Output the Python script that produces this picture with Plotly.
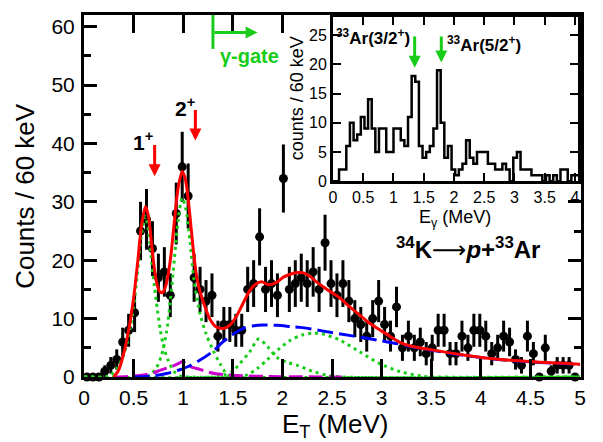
import math
import plotly.graph_objects as go

FONT = "Liberation Sans, Arial, Helvetica, sans-serif"
GREEN = "#19cc19"
RED = "#ff0000"
BLUE = "#0000ff"
MAGENTA = "#cc00cc"

# ---------------- main spectrum (60 keV bins) ----------------
counts = [0, 0, 0, 1, 2, 3, 6, 8, 11, 25, 27, 22, 17, 18, 14, 28, 36, 31, 17, 15,
          13, 14, 7, 9, 9, 8, 8, 15, 16, 24, 15, 16, 14, 34, 15, 16, 17, 16, 18, 15,
          23, 16, 14, 16, 13, 10, 9, 7, 10, 13, 9, 7, 12, 5, 7, 5, 6, 4, 5, 8,
          8, 4, 4, 7, 5, 8, 8, 7, 4, 5, 7, 6, 3, 2, 7, 4, 0, 5, 1, 2,
          2, 2, 0]
e_t = [round(0.03 + 0.06 * i, 2) for i in range(len(counts))]
err = [math.sqrt(c) for c in counts]

# ---------------- fit curves ----------------
total_e = [0.30, 0.35, 0.40, 0.45, 0.50, 0.54, 0.58, 0.62, 0.65, 0.68, 0.71, 0.74, 0.77,
           0.80, 0.83, 0.87, 0.91, 0.95, 0.99, 1.02, 1.05, 1.08, 1.11, 1.14, 1.17, 1.22,
           1.27, 1.33, 1.40, 1.47, 1.54, 1.60, 1.67, 1.73, 1.79, 1.86, 1.94, 2.01, 2.08,
           2.15, 2.22, 2.28, 2.35, 2.45, 2.58, 2.68, 2.78, 2.88, 2.98, 3.09, 3.19, 3.29,
           3.52, 3.86, 4.20, 4.53, 5.00]
total_y = [0.0, 1.2, 4.0, 8.0, 13.5, 19.5, 26.0, 29.2, 27.5, 23.0, 18.5, 15.6, 14.5,
           14.6, 16.0, 20.0, 26.5, 32.5, 35.2, 34.0, 30.5, 25.5, 20.5, 16.8, 14.6, 12.0,
           9.9, 8.6, 8.3, 8.9, 10.5, 12.5, 14.8, 15.9, 16.3, 15.8, 16.2, 17.1, 17.6,
           17.9, 17.8, 17.2, 16.2, 15.0, 13.5, 12.0, 10.6, 9.2, 8.1, 6.9, 5.9, 5.3,
           4.6, 3.7, 3.0, 2.6, 2.2]

bkg_e = [0.50, 0.70, 0.83, 0.96, 1.05, 1.17, 1.30, 1.40, 1.50, 1.60, 1.70, 1.80, 1.95,
         2.08, 2.18, 2.40, 2.72, 3.00, 3.19, 3.29, 3.52, 3.86, 4.20, 4.53, 5.00]
bkg_y = [0.0, 0.2, 0.6, 1.2, 1.8, 2.9, 4.4, 6.0, 7.3, 8.3, 8.75, 8.9, 8.85,
         8.65, 8.5, 7.9, 7.0, 6.2, 5.6, 5.2, 4.55, 3.65, 2.95, 2.55, 2.15]

mag_e = [0.30, 0.45, 0.60, 0.70, 0.76, 0.83, 0.90, 0.95, 0.99, 1.03, 1.07, 1.17, 1.25,
         1.33, 1.45, 1.60, 1.85, 2.20, 2.60]
mag_y = [0.0, 0.1, 0.35, 0.7, 1.1, 1.5, 1.9, 2.3, 2.6, 2.3, 1.8, 1.3, 0.85,
         0.55, 0.35, 0.2, 0.1, 0.03, 0.0]

g1_e = [0.00, 0.22, 0.28, 0.34, 0.40, 0.45, 0.50, 0.54, 0.58, 0.62, 0.65, 0.68, 0.71,
        0.74, 0.77, 0.80, 0.85, 0.91, 0.98, 1.05, 5.00]
g1_y = [0.0, 0.0, 0.5, 1.6, 3.8, 7.0, 12.0, 18.0, 24.5, 27.5, 25.0, 20.0, 15.5,
        11.5, 8.0, 5.4, 2.8, 0.9, 0.1, 0.0, 0.0]

g2_e = [0.00, 0.60, 0.67, 0.73, 0.78, 0.83, 0.87, 0.91, 0.95, 0.99, 1.03, 1.07, 1.11,
        1.17, 1.23, 1.30, 1.37, 1.44, 1.50, 5.00]
g2_y = [0.0, 0.0, 0.4, 1.6, 3.6, 7.5, 13.0, 20.0, 27.0, 30.7, 28.5, 23.0, 16.5,
        10.8, 7.4, 4.6, 2.3, 0.5, 0.0, 0.0]

g3_e = [0.00, 1.30, 1.40, 1.50, 1.57, 1.67, 1.76, 1.85, 1.95, 2.05, 2.15, 2.30, 2.45,
        2.60, 5.00]
g3_y = [0.0, 0.0, 0.3, 1.0, 2.3, 4.3, 6.5, 5.2, 3.3, 2.5, 2.0, 1.0, 0.3,
        0.0, 0.0]

g4_e = [0.00, 1.55, 1.65, 1.75, 1.85, 1.95, 2.08, 2.20, 2.30, 2.40, 2.58, 2.78, 2.98,
        3.19, 3.39, 3.50, 5.00]
g4_y = [0.0, 0.0, 0.4, 1.5, 3.0, 4.6, 6.3, 7.2, 7.5, 7.4, 6.3, 4.3, 2.3,
        0.9, 0.2, 0.0, 0.0]

# ---------------- inset: gamma spectrum (60 keV bins) ----------------
gam_edges = [round(-0.02 + 0.06 * i, 2) for i in range(69)]
gam_counts = [0, 0, 2, 2, 6, 10, 7, 8, 11, 9, 14, 9, 5, 9, 9, 5, 5, 9, 9, 7,
              6, 11, 18, 17, 6, 4, 5, 6, 9, 19, 10, 4, 6, 2, 1, 2, 3, 7, 4, 3,
              5, 5, 5, 3, 3, 2, 2, 3, 2, 0, 4, 5, 2, 2, 2, 1, 1, 1, 0, 1,
              0, 1, 0, 2, 2, 0, 1, 1]

fig = go.Figure()

fig.add_trace(go.Scatter(
    x=e_t, y=counts, mode="markers", cliponaxis=False,
    marker=dict(color="black", size=9),
    error_y=dict(type="data", array=err, visible=True, color="black", thickness=3, width=0),
    xaxis="x", yaxis="y"))

dot = "3px,4px"
for ex, ey in [(g1_e, g1_y), (g2_e, g2_y), (g3_e, g3_y), (g4_e, g4_y)]:
    fig.add_trace(go.Scatter(x=ex, y=ey, mode="lines",
                             line=dict(color=GREEN, width=3, dash=dot, shape="spline", smoothing=0.8),
                             xaxis="x", yaxis="y"))
fig.add_trace(go.Scatter(x=mag_e, y=mag_y, mode="lines",
                         line=dict(color=MAGENTA, width=3, dash="14px,6px", shape="spline", smoothing=0.8),
                         xaxis="x", yaxis="y"))
fig.add_trace(go.Scatter(x=bkg_e, y=bkg_y, mode="lines",
                         line=dict(color=BLUE, width=3, dash="16px,6px", shape="spline", smoothing=0.8),
                         xaxis="x", yaxis="y"))
fig.add_trace(go.Scatter(x=total_e, y=total_y, mode="lines",
                         line=dict(color=RED, width=3, shape="spline", smoothing=0.8),
                         xaxis="x", yaxis="y"))

# inset histogram
fig.add_trace(go.Scatter(x=gam_edges, y=gam_counts + [gam_counts[-1]], mode="lines",
                         line=dict(color="black", width=2.5, shape="hv"),
                         xaxis="x2", yaxis="y2"))

axis_common = dict(showline=True, linewidth=3, linecolor="black", mirror="ticks",
                   ticks="inside", tickcolor="black", showgrid=False, zeroline=False)

fig.update_layout(
    width=603, height=442,
    margin=dict(l=84, r=22, t=13, b=65),
    paper_bgcolor="white", plot_bgcolor="white",
    showlegend=False,
    font=dict(family=FONT, color="black"),
    xaxis=dict(**axis_common, range=[0, 5.01], domain=[0, 1], anchor="y",
               dtick=0.5, tick0=0, ticklen=18, tickwidth=2.5,
               tickfont=dict(size=21), ticklabelstandoff=0),
    yaxis=dict(**axis_common, range=[0, 62], domain=[0, 1], anchor="x",
               dtick=10, tick0=0, ticklen=13, tickwidth=2.5,
               minor=dict(dtick=5, ticklen=7, tickwidth=2.5, ticks="inside", tickcolor="black"),
               tickfont=dict(size=21), ticklabelstandoff=2),
    xaxis2=dict(**axis_common, range=[0, 4.05], domain=[0.501, 0.994], anchor="y2",
                dtick=0.5, tick0=0, ticklen=8, tickwidth=2,
                tickfont=dict(size=16), ticklabelstandoff=0),
    yaxis2=dict(**axis_common, range=[0, 28.1], domain=[0.541, 0.9945], anchor="x2",
                dtick=5, tick0=0, ticklen=8, tickwidth=2,
                tickfont=dict(size=16), ticklabelstandoff=0),
)

fig.add_shape(type="rect", xref="x2 domain", yref="y2 domain", x0=0, x1=1, y0=0, y1=1,
              fillcolor="white", line=dict(width=0), layer="below")

# gamma-gate marker
fig.add_shape(type="line", xref="x", yref="y", x0=1.30, x1=1.30, y0=56.2, y1=62,
              line=dict(color=GREEN, width=3))

ann = []
# axis titles
ann.append(dict(text="E<sub>T</sub> (MeV)", xref="paper", yref="paper", x=0.505, y=-0.135,
                showarrow=False, font=dict(size=26), xanchor="center", yanchor="middle"))
ann.append(dict(text="Counts / 60 keV", xref="paper", yref="paper", x=-0.119, y=0.5,
                textangle=-90, showarrow=False, font=dict(size=26), xanchor="center", yanchor="middle"))
ann.append(dict(text="E<sub>γ</sub> (MeV)", xref="paper", yref="paper", x=0.746, y=0.438,
                showarrow=False, font=dict(size=18), xanchor="center", yanchor="middle"))
ann.append(dict(text="counts / 60 keV", xref="paper", yref="paper", x=0.428, y=0.769,
                textangle=-90, showarrow=False, font=dict(size=18), xanchor="center", yanchor="middle"))
# level labels and arrows
ann.append(dict(text="<b>1<sup>+</sup></b>", xref="x", yref="y", x=0.59, y=40.5,
                showarrow=False, font=dict(size=21)))
ann.append(dict(text="<b>2<sup>+</sup></b>", xref="x", yref="y", x=1.015, y=46.3,
                showarrow=False, font=dict(size=21)))
for xx, y0, y1 in [(0.712, 40.0, 34.4), (1.123, 46.0, 40.5)]:
    ann.append(dict(text="", xref="x", yref="y", axref="x", ayref="y", x=xx, y=y1, ax=xx, ay=y0,
                    showarrow=True, arrowhead=2, arrowsize=0.8, arrowwidth=3, arrowcolor=RED))
# gamma gate arrow
ann.append(dict(text="", xref="x", yref="y", axref="x", ayref="y", x=1.75, y=59.0, ax=1.30, ay=59.0,
                showarrow=True, arrowhead=2, arrowsize=0.8, arrowwidth=3, arrowcolor=GREEN))
ann.append(dict(text="<b>γ-gate</b>", xref="x", yref="y", x=1.67, y=55.0,
                showarrow=False, font=dict(size=20, color=GREEN)))
# reaction label
ann.append(dict(text="<b><sup>34</sup>K</b><span style='font-family:DejaVu Sans'>⟶</span><b><i>p</i>+<sup>33</sup>Ar</b>",
                xref="x", yref="y", x=3.87, y=22.0, showarrow=False, font=dict(size=24)))
# inset labels and arrows
ann.append(dict(text="<b><sup>33</sup>Ar(3/2<sup>+</sup>)</b>", xref="x2", yref="y2", x=0.66, y=24.7,
                showarrow=False, font=dict(size=17)))
ann.append(dict(text="<b><sup>33</sup>Ar(5/2<sup>+</sup>)</b>", xref="x2", yref="y2", x=2.5, y=23.5,
                showarrow=False, font=dict(size=17)))
for xx, y0, y1 in [(1.35, 25.0, 19.4), (1.79, 25.0, 20.3)]:
    ann.append(dict(text="", xref="x2", yref="y2", axref="x2", ayref="y2", x=xx, y=y1, ax=xx, ay=y0,
                    showarrow=True, arrowhead=2, arrowsize=0.8, arrowwidth=3, arrowcolor=GREEN))
fig.update_layout(annotations=ann)

fig.write_html("out.html")
